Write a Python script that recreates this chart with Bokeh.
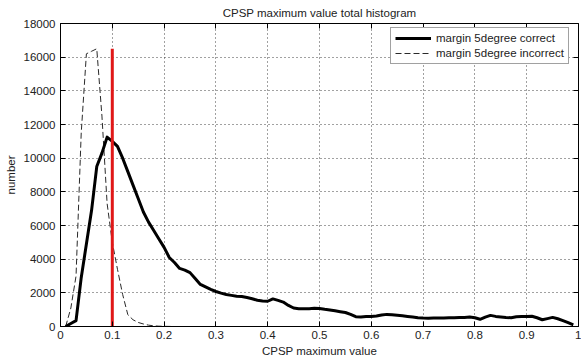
from bokeh.plotting import figure
from bokeh.models import Range1d, FixedTicker, LinearAxis, Legend, LegendItem, Title
from bokeh.embed import file_html
from bokeh.resources import INLINE

# ---- data ----
x_correct = [0.01, 0.02, 0.03, 0.04, 0.05, 0.06, 0.07, 0.08, 0.09, 0.10,
             0.11, 0.12, 0.13, 0.14, 0.15, 0.16, 0.17, 0.18, 0.19, 0.20,
             0.21, 0.22, 0.23, 0.24, 0.25, 0.26, 0.27, 0.28, 0.29, 0.30,
             0.31, 0.32, 0.33, 0.34, 0.35, 0.36, 0.37, 0.38, 0.39, 0.40,
             0.41, 0.42, 0.43, 0.44, 0.45, 0.46, 0.47, 0.48, 0.49, 0.50,
             0.51, 0.52, 0.53, 0.54, 0.55, 0.56, 0.57, 0.58, 0.59, 0.60,
             0.61, 0.62, 0.63, 0.64, 0.65, 0.66, 0.67, 0.68, 0.69, 0.70,
             0.71, 0.72, 0.73, 0.74, 0.75, 0.76, 0.77, 0.78, 0.79, 0.80,
             0.81, 0.82, 0.83, 0.84, 0.85, 0.86, 0.87, 0.88, 0.89, 0.90,
             0.91, 0.92, 0.93, 0.94, 0.95, 0.96, 0.97, 0.98, 0.99]
y_correct = [0, 180, 350, 2900, 4900, 6900, 9500, 10300, 11250, 11000,
             10700, 10000, 9200, 8400, 7600, 6800, 6200, 5700, 5200, 4700,
             4100, 3800, 3450, 3350, 3200, 2850, 2500, 2350, 2200, 2080,
             1980, 1900, 1850, 1800, 1780, 1720, 1650, 1560, 1520, 1500,
             1640, 1550, 1450, 1250, 1100, 1060, 1050, 1060, 1080, 1070,
             1020, 980, 930, 880, 830, 720, 580, 570, 590, 600,
             620, 680, 720, 700, 670, 640, 600, 560, 520, 500,
             490, 500, 500, 510, 520, 520, 530, 540, 560, 520,
             430, 560, 660, 600, 570, 540, 520, 580, 600, 590,
             610, 520, 400, 470, 540, 460, 350, 230, 100]

x_incorrect = [0.01, 0.02, 0.03, 0.04, 0.05, 0.06, 0.07, 0.08, 0.09, 0.10,
               0.11, 0.12, 0.13, 0.14, 0.15, 0.16, 0.17, 0.18, 0.19, 0.20,
               0.21, 0.22, 0.23, 0.24]
y_incorrect = [0, 1100, 3000, 11500, 16200, 16350, 16500, 12500, 7300, 5000,
               3400, 1900, 700, 400, 240, 150, 80, 40, 20, 10,
               5, 0, 0, 0]

threshold_x = [0.1, 0.1]
threshold_y = [0, 16500]

x_ticks = [0, 0.1, 0.2, 0.3, 0.4, 0.5, 0.6, 0.7, 0.8, 0.9, 1]
x_tick_labels = ["0", "0.1", "0.2", "0.3", "0.4", "0.5", "0.6", "0.7", "0.8", "0.9", "1"]
y_ticks = [0, 2000, 4000, 6000, 8000, 10000, 12000, 14000, 16000, 18000]
y_tick_labels = ["0", "2000", "4000", "6000", "8000", "10000", "12000", "14000", "16000", "18000"]

series_labels = ["margin 5degree correct", "margin 5degree incorrect"]
title_text = "CPSP maximum value total histogram"
x_label = "CPSP maximum value"
y_label = "number"

# ---- figure ----
FONT = "Liberation Sans"
FS = "11.5px"
TXT = "#222222"

p = figure(width=581, height=364, output_backend="svg", toolbar_location=None,
           x_range=Range1d(0, 1), y_range=Range1d(0, 18000),
           min_border_left=60, min_border_right=3, min_border_top=0, min_border_bottom=38,
           background_fill_color="white", border_fill_color="white")

p.title = Title(text=title_text, align="center", text_font=FONT, text_font_size=FS,
                text_font_style="normal", text_color=TXT, standoff=9)

p.outline_line_color = "black"
p.outline_line_width = 1

for ax in (p.xaxis[0], p.yaxis[0]):
    ax.major_tick_in = 5
    ax.major_tick_out = 0
    ax.minor_tick_in = 0
    ax.minor_tick_out = 0
    ax.axis_line_color = "black"
    ax.major_tick_line_color = "black"
    ax.major_label_text_font = FONT
    ax.major_label_text_font_size = FS
    ax.major_label_text_color = TXT
    ax.axis_label_text_font = FONT
    ax.axis_label_text_font_size = FS
    ax.axis_label_text_font_style = "normal"
    ax.axis_label_text_color = TXT

p.xaxis[0].ticker = FixedTicker(ticks=x_ticks)
p.xaxis[0].major_label_overrides = dict(zip(x_ticks, x_tick_labels))
p.xaxis[0].major_label_standoff = 4
p.xaxis[0].axis_label = x_label
p.xaxis[0].axis_label_standoff = 3

p.yaxis[0].ticker = FixedTicker(ticks=y_ticks)
p.yaxis[0].major_label_overrides = dict(zip(y_ticks, y_tick_labels))
p.yaxis[0].major_label_standoff = 5
p.yaxis[0].axis_label = y_label
p.yaxis[0].axis_label_standoff = 4

# box ticks on top and right (no labels)
for loc, tk in (("right", y_ticks), ("above", x_ticks)):
    a = LinearAxis(ticker=FixedTicker(ticks=tk), major_tick_in=5, major_tick_out=0,
                   minor_tick_in=0, minor_tick_out=0,
                   major_label_overrides={t: "" for t in tk},
                   major_label_standoff=0, axis_line_color=None,
                   major_tick_line_color="black")
    p.add_layout(a, loc)

p.xgrid.ticker = FixedTicker(ticks=x_ticks)
p.ygrid.ticker = FixedTicker(ticks=y_ticks)
for g in (p.xgrid[0], p.ygrid[0]):
    g.grid_line_color = "#303030"
    g.grid_line_dash = "1 3"
    g.grid_line_width = 1
    g.grid_line_alpha = 0.9

r_inc = p.line(x_incorrect, y_incorrect, line_color="#2a2a2a", line_width=1,
               line_dash="6 3")
r_cor = p.line(x_correct, y_correct, line_color="black", line_width=3,
               line_join="round")
p.line(threshold_x, threshold_y, line_color="#e01818", line_width=3)

legend = Legend(items=[LegendItem(label=series_labels[0], renderers=[r_cor]),
                       LegendItem(label=series_labels[1], renderers=[r_inc])],
                location=(330, 262), margin=0, padding=4, spacing=3,
                glyph_width=36, glyph_height=12, label_height=12, label_standoff=5,
                label_text_font=FONT, label_text_font_size=FS, label_text_color=TXT,
                border_line_color="#444444", border_line_width=1,
                background_fill_color="white", background_fill_alpha=1)
p.add_layout(legend, "center")

open("out.html", "w").write(file_html(p, INLINE))
